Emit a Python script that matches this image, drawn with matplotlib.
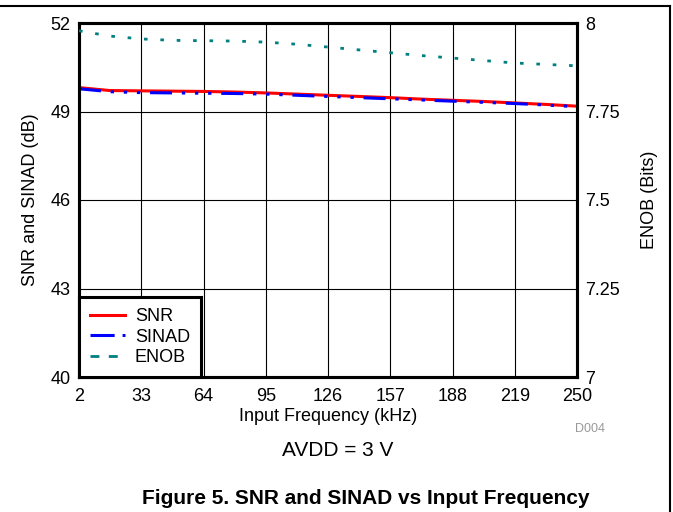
import matplotlib
matplotlib.use("Agg")
import matplotlib.pyplot as plt
from matplotlib.lines import Line2D

plt.rcParams['font.family'] = ['Liberation Sans', 'DejaVu Sans']

freq = [2, 17.5, 33, 48.5, 64, 79.5, 95, 110.5, 126, 141.5, 157, 172.5, 188, 203.5, 219, 234.5, 250]
snr = [49.81, 49.71, 49.70, 49.69, 49.68, 49.66, 49.63, 49.59, 49.55, 49.51, 49.47, 49.42, 49.38, 49.34, 49.29, 49.24, 49.18]
sinad = [49.77, 49.67, 49.64, 49.63, 49.62, 49.61, 49.59, 49.55, 49.51, 49.47, 49.43, 49.39, 49.35, 49.31, 49.27, 49.22, 49.16]
enob = [7.978, 7.963, 7.955, 7.951, 7.950, 7.949, 7.946, 7.940, 7.932, 7.924, 7.916, 7.908, 7.901, 7.894, 7.887, 7.883, 7.879]

xticks = [2, 33, 64, 95, 126, 157, 188, 219, 250]
yticks_left = [40, 43, 46, 49, 52]
yticks_right = [7, 7.25, 7.5, 7.75, 8]
yticklabels_right = ['7', '7.25', '7.5', '7.75', '8']

fig = plt.figure(figsize=(6.73, 5.12), dpi=100)
W, H = 673, 512
left, right, top, bottom = 79, 577, 23, 377
ax = fig.add_axes([left / W, 1 - bottom / H, (right - left) / W, (bottom - top) / H])
ax2 = ax.twinx()

ax.set_xlim(2, 250)
ax.set_ylim(40, 52)
ax2.set_ylim(7, 8)
ax.set_xticks(xticks)
ax.set_yticks(yticks_left)
ax2.set_yticks(yticks_right)
ax2.set_yticklabels(yticklabels_right)
ax.grid(True, color='black', linewidth=0.8)
for a in (ax, ax2):
    a.tick_params(length=0, labelsize=13, pad=6)
    for s in a.spines.values():
        s.set_linewidth(2.2)
ax.tick_params(axis='x', pad=8)

teal = '#008080'
l1, = ax.plot(freq, snr, color='red', lw=2.2, label='SNR', zorder=3)
l2, = ax.plot(freq, sinad, color='blue', lw=2.2,
              dashes=(7.2, 3.2, 1.1, 3.2, 1.1, 3.2, 1.1, 3.2), label='SINAD', zorder=3)
l3, = ax2.plot(freq, enob, color=teal, lw=2, dashes=(1.3, 4.6), label='ENOB', zorder=3)

ax.set_xlabel('Input Frequency (kHz)', fontsize=13, labelpad=2)
ax.set_ylabel('SNR and SINAD (dB)', fontsize=13, labelpad=8)
ax2.set_ylabel('ENOB (Bits)', fontsize=13, labelpad=15)

leg_l1 = Line2D([], [], color='red', lw=2.2)
leg_l2 = Line2D([], [], color='blue', lw=2.2, dashes=(7.9, 2.6, 2.0, 6.0))
leg_l3 = Line2D([], [], color=teal, lw=2, dashes=(3.2, 3.4))
leg = ax2.legend([leg_l1, leg_l2, leg_l3], ['SNR', 'SINAD', 'ENOB'], loc='lower left',
                 borderaxespad=0, fancybox=False, framealpha=1, edgecolor='black',
                 fontsize=13, handlelength=1.95, handletextpad=0.55,
                 labelspacing=0.2, borderpad=0.6)
leg.get_frame().set_linewidth(2.2)

fig.text(590 / W, 1 - 429 / H, 'D004', color='#999999', fontsize=9, ha='center', va='center')
fig.text(338 / W, 1 - 451 / H, 'AVDD = 3 V', fontsize=15, ha='center', va='center')
fig.text(366 / W, 1 - 498 / H, 'Figure 5. SNR and SINAD vs Input Frequency', fontsize=15,
         fontweight='bold', ha='center', va='center')

fig.add_artist(Line2D([0, 670 / W], [1 - 6 / H, 1 - 6 / H], color='black', lw=1.5, transform=fig.transFigure))
fig.add_artist(Line2D([670 / W, 670 / W], [1 - 6 / H, 0], color='black', lw=1.5, transform=fig.transFigure))

fig.savefig('out.png', dpi=100)
